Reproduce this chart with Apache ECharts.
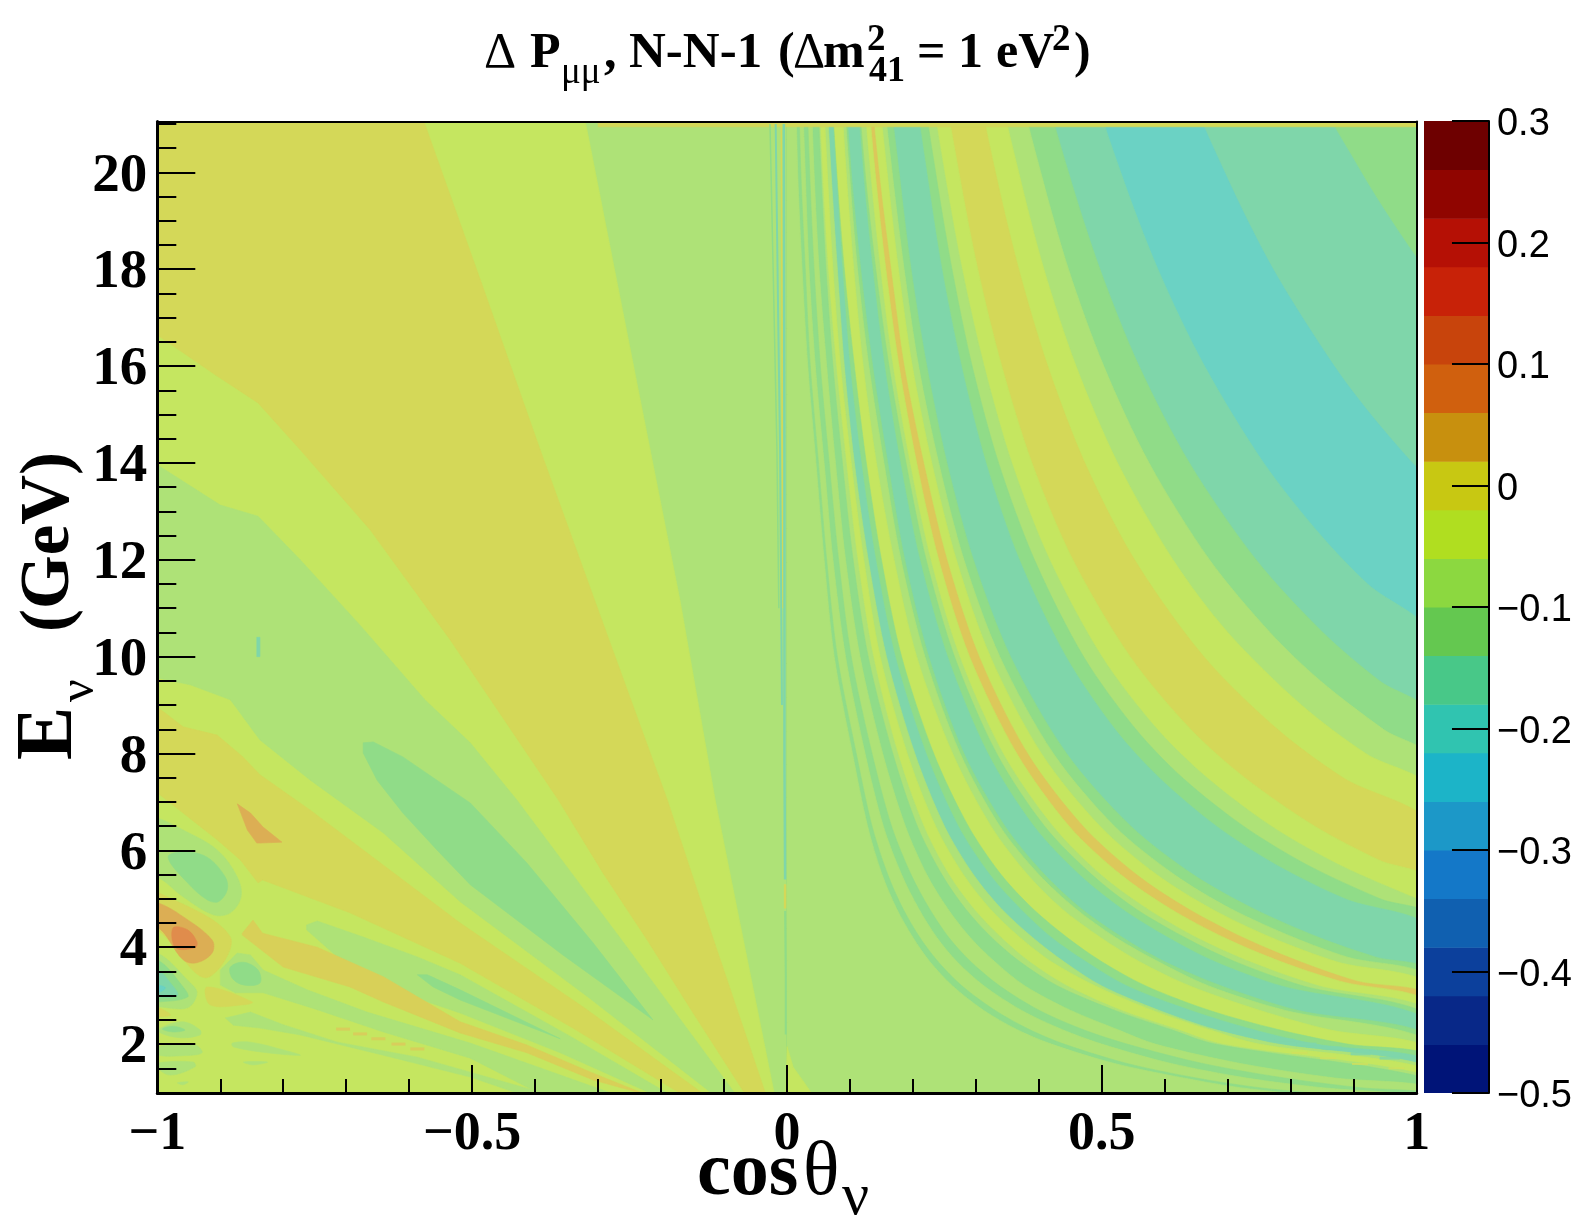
<!DOCTYPE html>
<html><head><meta charset="utf-8">
<style>html,body{margin:0;padding:0;background:#fff}#c{width:1575px;height:1217px}</style>
<script src="https://cdn.jsdelivr.net/npm/echarts@6/dist/echarts.min.js"></script>
</head><body><div id="c"></div>
<script>
// ---- tick labels / colour scale ----
const xTicks=[-1,-0.5,0,0.5,1];
const yMajor=[2,4,6,8,10,12,14,16,18,20];
const yMinor=[1,1.5,2.5,3,3.5,4.5,5,5.5,6.5,7,7.5,8.5,9,9.5,10.5,11,11.5,12.5,13,13.5,14.5,15,15.5,16.5,17,17.5,18.5,19,19.5,20.5,21];
const scaleEdges=[-0.5,-0.46,-0.42,-0.38,-0.34,-0.3,-0.26,-0.22,-0.18,-0.14,-0.1,-0.06,-0.02,0.02,0.06,0.1,0.14,0.18,0.22,0.26,0.3];
const scaleColors=['#001478','#082888','#0c409c','#1060b0','#1478c8','#1c98c8','#1cb4c8','#30c4b0','#48c888','#64c850','#8cd840','#b0de20','#c8c812','#c8900e','#d0600e','#c8440c','#c82208','#b51005','#900500','#6e0000'];
const P2='#e08c4c',P1='#dcae54',O0='#dcc85a',Q0='#d8d058',Z0='#d4d858',M1='#c5e660',M2='#aee277',M3='#90dc88',M4='#7fd6aa',M5='#6bd2c4';

// ---- contour edges for cosθ>0, each [cosθ,E] ----
const edge01=[[.829,22],[.912,20],[.96,19],[1.013,18],[1.05,17.4]];
const edge02=[[.632,22],[.695,20],[.772,18],[.869,16],[.927,15],[.993,14],[1.03,13.5]];
const edge03=[[.482,22],[.53,20],[.589,18],[.663,16],[.757,14],[.848,12.5],[.922,11.5],[1.03,10.3]];
const edge04=[[.406,22],[.447,20],[.497,18],[.559,16],[.639,14],[.745,12],[.851,10.5],[.941,9.5],[1.03,8.7]];
const edge05=[[.366,22],[.403,20],[.447,18],[.503,16],[.575,14],[.671,12],[.767,10.5],[.847,9.5],[.947,8.5],[1.03,7.8]];
const edge06=[[.334,22],[.368,20],[.408,18],[.459,16],[.525,14],[.613,12],[.7,10.5],[.817,9],[.919,8],[1.03,7.15]];
const edge07=[[.301,22],[.331,20],[.368,18],[.414,16],[.473,14],[.552,12],[.662,10],[.779,8.5],[.883,7.5],[1.03,6.4]];
const edge08=[[.248,22],[.273,20],[.303,18],[.341,16],[.389,14],[.454,12],[.545,10],[.641,8.5],[.727,7.5],[.838,6.5],[.94,5.8],[1.03,5.3]];
const edge09=[[.227,22],[.25,20],[.278,18],[.313,16],[.357,14],[.417,12],[.5,10],[.588,8.5],[.667,7.5],[.769,6.5],[.877,5.7],[1,5],[1.03,4.85]];
const edge10=[[.214,22],[.236,20],[.262,18],[.294,16],[.336,14],[.393,12],[.471,10],[.554,8.5],[.628,7.5],[.725,6.5],[.826,5.7],[.942,5],[1.03,4.57]];
const edge11=[[.201,22],[.222,20],[.246,18],[.277,16],[.316,14],[.369,12],[.443,10],[.521,8.5],[.591,7.5],[.682,6.5],[.777,5.7],[.886,5],[1.03,4.3]];
const edge12=[[.161,22],[.178,20],[.197,18],[.222,16],[.254,14],[.296,12],[.355,10],[.444,8],[.546,6.5],[.645,5.5],[.74,4.8],[.845,4.2],[.934,3.8],[1.03,3.45]];
const edge13=[[.151,22],[.167,20],[.186,18],[.209,16],[.241,14],[.281,12],[.338,10],[.423,8],[.52,6.5],[.615,5.5],[.704,4.8],[.805,4.2],[.889,3.8],[1.03,3.3]];
const edge14=[[.144,22],[.159,20],[.177,18],[.199,16],[.23,14],[.269,12],[.323,10],[.404,8],[.497,6.5],[.587,5.5],[.673,4.8],[.769,4.2],[.873,3.7],[1.03,3.15]];
const edge15=[[.132,22],[.146,20],[.165,18],[.186,16],[.217,14],[.254,12],[.305,10],[.382,8],[.47,6.5],[.555,5.5],[.636,4.8],[.724,4.2],[.815,3.7],[.905,3.3],[1.03,2.93]];
const edge16=[[.127,22],[.14,20],[.157,18],[.178,16],[.206,14],[.241,12],[.29,10],[.365,8],[.448,6.5],[.53,5.5],[.608,4.8],[.694,4.2],[.785,3.7],[.878,3.3],[1.03,2.79]];
const edge17=[[.12,22],[.132,20],[.148,18],[.168,16],[.195,14],[.228,12],[.274,10],[.343,8],[.422,6.5],[.498,5.5],[.571,4.8],[.65,4.2],[.735,3.7],[.845,3.2],[1.03,2.62]];
const edge18=[[.112,22],[.124,20],[.141,18],[.162,16],[.189,14],[.221,12],[.266,10],[.333,8],[.409,6.5],[.484,5.5],[.553,4.8],[.632,4.2],[.712,3.7],[.82,3.2],[1.03,2.52]];
const edge19=[[.11,22],[.121,20],[.136,18],[.155,16],[.18,14],[.211,12],[.255,10],[.319,8],[.392,6.5],[.464,5.5],[.531,4.8],[.605,4.2],[.68,3.7],[.785,3.2],[1.03,2.43]];
const edge20=[[.092,22],[.102,20],[.117,18],[.136,16],[.16,14],[.187,12],[.225,10],[.281,8],[.346,6.5],[.409,5.5],[.467,4.8],[.533,4.2],[.6,3.7],[.69,3.2],[.81,2.7],[1.03,2.13]];
const edge21=[[.089,22],[.099,20],[.112,18],[.13,16],[.154,14],[.181,12],[.219,10],[.275,8],[.338,6.5],[.4,5.5],[.458,4.8],[.522,4.2],[.59,3.7],[.67,3.2],[.79,2.7],[1.03,2.02]];
const edge22=[[.085,22],[.094,20],[.106,18],[.121,16],[.142,14],[.17,12],[.206,10],[.263,8],[.324,6.5],[.382,5.5],[.436,4.8],[.498,4.2],[.56,3.7],[.64,3.2],[.75,2.7],[.86,2.3],[1.03,1.88]];
const edge23=[[.07,22],[.079,20],[.091,18],[.107,16],[.126,14],[.15,12],[.182,10],[.233,8],[.288,6.5],[.34,5.5],[.39,4.8],[.445,4.2],[.5,3.7],[.57,3.2],[.67,2.7],[.78,2.3],[.89,2],[1.03,1.73]];
const edge24=[[.069,22],[.078,20],[.088,18],[.1,16],[.118,14],[.141,12],[.172,10],[.221,8],[.272,6.5],[.322,5.5],[.37,4.8],[.42,4.2],[.475,3.7],[.54,3.2],[.64,2.7],[.74,2.3],[.84,2],[1.03,1.63]];
const edge25=[[.062,22],[.07,20],[.08,18],[.091,16],[.107,14],[.129,12],[.158,10],[.203,8],[.25,6.5],[.296,5.5],[.34,4.8],[.39,4.2],[.44,3.7],[.5,3.2],[.59,2.7],[.68,2.3],[.78,2],[1.03,1.5]];
const edge26=[[.057,22],[.064,20],[.073,18],[.085,16],[.102,14],[.122,12],[.148,10],[.191,8],[.236,6.5],[.28,5.5],[.322,4.8],[.37,4.2],[.42,3.7],[.49,3.2],[.58,2.7],[.67,2.3],[.75,2],[1.03,1.44]];
const edge27=[[.05,22],[.056,20],[.065,18],[.078,16],[.094,14],[.112,12],[.137,10],[.176,8],[.217,6.5],[.257,5.5],[.296,4.8],[.34,4.2],[.385,3.7],[.445,3.2],[.53,2.7],[.62,2.3],[.69,2],[1.03,1.31]];
const edge28=[[.048,22],[.054,20],[.062,18],[.073,16],[.088,14],[.105,12],[.129,10],[.168,8],[.207,6.5],[.246,5.5],[.283,4.8],[.325,4.2],[.37,3.7],[.43,3.2],[.52,2.7],[.61,2.3],[.68,2],[1.03,1.25]];
const edge29=[[.038,22],[.043,20],[.051,18],[.063,16],[.077,14],[.093,12],[.116,10],[.152,8],[.188,6.5],[.222,5.5],[.255,4.8],[.291,4.2],[.33,3.7],[.378,3.2],[.45,2.7],[.525,2.3],[.585,2],[.72,1.6],[.87,1.3],[1.03,1.1]];
const edge30=[[.031,22],[.036,20],[.043,18],[.053,16],[.067,14],[.082,12],[.102,10],[.135,8],[.166,6.5],[.197,5.5],[.226,4.8],[.257,4.2],[.292,3.7],[.338,3.2],[.4,2.7],[.47,2.3],[.54,2],[.66,1.6],[.79,1.3],[.91,1.1],[1.03,.97]];
const edge31=[[.024,22],[.029,20],[.035,18],[.045,16],[.059,14],[.073,12],[.093,10],[.124,8],[.153,6.5],[.182,5.5],[.209,4.8],[.238,4.2],[.27,3.7],[.313,3.2],[.372,2.7],[.437,2.3],[.5,2],[.61,1.6],[.73,1.3],[.85,1.1],[1.03,.9]];
const edge32=[[.018,22],[.022,20],[.029,18],[.037,16],[.05,14],[.063,12],[.08,10],[.11,8],[.135,6.5],[.16,5.5],[.184,4.8],[.211,4.2],[.24,3.7],[.278,3.2],[.33,2.7],[.385,2.3],[.44,2],[.54,1.6],[.65,1.3],[.75,1.1],[.9,.9]];
const edge33=[[.014,22],[.017,20],[.024,18],[.033,16],[.046,14],[.059,12],[.075,10],[.104,8],[.128,6.5],[.151,5.5],[.174,4.8],[.2,4.2],[.227,3.7],[.263,3.2],[.312,2.7],[.365,2.3],[.42,2],[.52,1.6],[.63,1.3],[.72,1.1],[.86,.9]];
const rightBands=[[edge01,M4],[edge02,M5],[edge03,M4],[edge04,M3],[edge05,M2],[edge06,M1],[edge07,Z0],[edge08,M1],[edge09,M2],[edge10,M3],[edge11,M4],[edge12,M3],[edge13,M2],[edge14,M1],[edge15,O0],[edge16,M1],[edge17,M2],[edge18,M3],[edge19,M4],[edge20,M3],[edge21,M2],[edge22,M1],[edge23,M3],[edge24,M4],[edge25,M2],[edge26,M1],[edge27,M2],[edge28,M3],[edge29,M2],[edge30,M3],[edge31,M2],[edge32,M3],[edge33,M2]];
const closeRight=[[1.1,.5],[.5,.5],[.01,.5],[0,.5],[0,.6],[0,21.9],[0,23]];

// ---- closed contour regions for cosθ<0, each vertex [cosθ,E] ----
const wedgeM1=[[-1.05,21.1],[-.321,21.1],[-.233,15.3],[-.17,11.17],[-.114,7.04],[-.019,.9],[-1.05,.9]];
const wedgeZ0=[[-1.05,21.1],[-.578,21.1],[-.487,17.78],[-.392,14.27],[-.297,10.86],[-.19,7.04],[-.114,4.05],[-.032,.9],[-.063,.9],[-.149,2.64],[-.222,4.15],[-.292,5.53],[-.363,7.04],[-.535,10.35],[-.662,12.62],[-.773,14.27],[-.84,15.24],[-.908,15.82],[-1,16.64],[-1.05,17]];
const wedgeM2=[[-1.05,14.4],[-1,13.96],[-.9,13.13],[-.84,12.9],[-.773,12],[-.678,10.65],[-.575,9.11],[-.503,8.22],[-.429,7.04],[-.254,4],[-.078,.9],[-.111,.9],[-.316,2.97],[-.519,4.94],[-.641,6.36],[-.757,7.45],[-.837,8.28],[-.884,9.11],[-.948,9.42],[-1,9.56],[-1.05,9.7]];
const lobeA=[[-.673,8.22],[-.657,8.24],[-.61,7.93],[-.556,7.45],[-.503,6.98],[-.413,5.74],[-.308,4.09],[-.213,2.5],[-.356,3.84],[-.503,5.29],[-.556,6.01],[-.61,6.77],[-.651,7.45],[-.673,8.01]];
const blip=[[-.842,10.4],[-.837,10.4],[-.837,10],[-.842,10]];
const bandZ0=[[-1.05,9.2],[-1,8.96],[-.959,8.55],[-.905,8.38],[-.864,7.93],[-.837,7.56],[-.757,6.83],[-.519,4.5],[-.322,2.75],[-.125,.9],[-.159,.9],[-.34,2.33],[-.519,3.67],[-.694,4.71],[-.833,5.39],[-.84,5.33],[-.868,5.8],[-.905,6.22],[-.959,6.77],[-1,7.19],[-1.05,7.4]];
const patchP1=[[-.873,6.96],[-.852,6.77],[-.832,6.48],[-.802,6.17],[-.837,6.15],[-.842,6.15],[-.857,6.42]];
const ringM2=[[-1.05,6.8],[-1,6.67],[-.959,6.42],[-.905,6.01],[-.873,5.45],[-.867,5.04],[-.884,4.71],[-.911,4.67],[-.959,5.04],[-1,5.45],[-1.05,5.6]];
const ringM3=[[-.983,5.86],[-.959,5.97],[-.921,5.86],[-.892,5.45],[-.889,5.18],[-.903,4.94],[-.921,4.98],[-.952,5.33]];
const blobZ0=[[-1.05,5.3],[-1,5.14],[-.884,4.21],[-.924,3.37],[-1,4.36],[-1.05,4.5]];
const blobP1=[[-1.05,5],[-1,4.92],[-.959,4.63],[-.913,4.15],[-.913,3.88],[-.937,3.68],[-.959,3.74],[-1,4.42],[-1.05,4.5]];
const blobP2=[[-.975,4.4],[-.952,4.36],[-.937,4.11],[-.94,3.99],[-.971,3.99]];
const eyeM2=[[-1.05,3.9],[-1,3.88],[-.952,3.32],[-.937,3.06],[-.952,2.75],[-1,2.77],[-1.05,2.77]];
const eyeM3=[[-1.05,3.8],[-1,3.74],[-.959,3.18],[-.952,2.97],[-1,2.87],[-1.05,2.87]];
const eyeM4=[[-1.05,3.6],[-1,3.53],[-.979,3.26],[-.968,3.01],[-1,2.97],[-1.05,2.97]];
const eyeM5=[[-1.05,3.25],[-1,3.22],[-.987,3.16],[-1,3.06],[-1.05,3.03]];
const isleZ0a=[[-.921,3.18],[-.849,2.87],[-.863,2.81],[-.916,2.81]];
const isleZ0b=[[-1.05,2.8],[-1,2.75],[-.979,2.6],[-1,2.56],[-1.05,2.5]];
const isleM2a=[[-.995,2.33],[-.959,2.46],[-.932,2.29],[-.932,2.19],[-.963,2.13],[-.995,2.23]];
const isleM3a=[[-.992,2.31],[-.975,2.37],[-.956,2.29],[-.975,2.25]];
const isleM2b=[[-1,1.94],[-.94,1.98],[-.929,1.82],[-.959,1.76],[-1,1.78]];
const isleM2c=[[-1,1.61],[-.943,1.63],[-.94,1.53],[-.979,1.36],[-1,1.51]];
const isleM2d=[[-.968,1.2],[-.951,1.22],[-.959,1.16]];
const isleM2e=[[-.881,2.02],[-.852,2.04],[-.8,1.88],[-.773,1.77],[-.825,1.82],[-.879,1.94]];
const isleM2f=[[-.863,1.63],[-.825,1.63],[-.848,1.57]];
const longM2=[[-.892,2.54],[-.852,2.66],[-.8,2.4],[-.714,2.04],[-.587,1.73],[-.503,1.42],[-.376,.95],[-.42,.95],[-.503,1.32],[-.641,1.77],[-.773,2.19],[-.837,2.33],[-.879,2.39]];
const wedgeLow=[[-.763,4.46],[-.746,4.54],[-.673,4.21],[-.587,3.8],[-.519,3.43],[-.348,2.19],[-.178,.9],[-.202,.9],[-.36,1.82],[-.519,2.64],[-.641,3.18],[-.714,3.8],[-.763,4.36]];
const wedgeLowM3=[[-.587,3.43],[-.571,3.43],[-.519,3.12],[-.36,2.11],[-.519,2.91],[-.562,3.18]];
const thinO0=[[-.865,4.29],[-.848,4.56],[-.833,4.29],[-.746,4],[-.641,3.39],[-.519,2.46],[-.413,1.98],[-.308,1.4],[-.222,.95],[-.308,1.26],[-.413,1.82],[-.519,2.23],[-.641,2.87],[-.694,3.18],[-.8,3.59],[-.865,4.25]];
const tailM2=[[-.9,3.53],[-.873,3.88],[-.852,3.84],[-.832,3.53],[-.762,3.12],[-.667,2.66],[-.503,2.02],[-.26,.9],[-.381,.9],[-.503,1.71],[-.641,2.25],[-.746,2.71],[-.832,3.06],[-.876,3.06],[-.9,3.22]];
const tailM3=[[-.884,3.59],[-.863,3.69],[-.84,3.53],[-.837,3.26],[-.863,3.22],[-.881,3.36]];
const originM1=[[0,1.95],[.01,1.52],[.025,1.25],[.041,.95],[-.002,.95]];
const topStrip=[[-.3,21.05],[1.05,21.05],[1.05,20.94],[-.3,20.94]];
const leftRegions=[[wedgeM1,M1],[wedgeZ0,Z0],[wedgeM2,M2],[lobeA,M3],[blip,M4],[bandZ0,Z0],[patchP1,P1],[ringM2,M2,1],[ringM3,M3,1],[blobZ0,Z0,1],[blobP1,P1,1],[blobP2,P2,1],[eyeM2,M2,1],[eyeM3,M3,1],[eyeM4,M4,1],[eyeM5,M5,1],[isleZ0a,Z0,1],[isleZ0b,Z0,1],[isleM2a,M2,1],[isleM3a,M3,1],[isleM2b,M2,1],[isleM2c,M2,1],[isleM2d,M2,1],[isleM2e,M2,1],[isleM2f,M2,1],[longM2,M2],[wedgeLow,M2],[wedgeLowM3,M3],[thinO0,Q0],[tailM2,M2],[tailM3,M3,1],[originM1,M1],[topStrip,Z0]];

// near-vertical stripes at cosθ≈0
const stripeA=[[-.027,21],[-.022,18],[-.016,14.3],[-.013,11]];
const stripeB=[[-.018,21],[-.014,17],[-.011,14.3],[-.008,9]];
const stripeC=[[-.009,21],[-.0075,14.3],[-.006,11]];
const stripeD=[[-.005,21],[-.004,14],[-.004,7.8],[-.003,5.4]];
const stripeE=[[-.003,5.3],[-.003,4.8]];
const stripeF=[[-.003,4.75],[-.002,3.4],[-.002,2.2]];
// fragments of narrow ridges
const dashesO0=[[-.705,2.31],[-.678,2.21],[-.649,2.11],[-.617,2.0],[-.587,1.9]];
const dashesM4=[[.79,2.08],[.825,2.0],[.865,1.92],[.911,1.8],[.957,1.71]];
const dashesZ0=[[.814,1.82],[.859,1.71],[.91,1.59],[.968,1.5]];

const polys=[{pts:[[-1.05,22],[1.05,22],[1.05,.5],[-1.05,.5]],c:M2,s:0},{pts:[[0,22],[1.1,22],[1.1,.5],[0,.5]],c:M3,s:0}];
// the curve enters from straight above so its smoothing stays true inside the frame
rightBands.forEach(b=>polys.push({pts:b[0].concat(closeRight,[[b[0][0][0],23]]),c:b[1],s:0.3}));
leftRegions.forEach(b=>polys.push({pts:b[0],c:b[1],s:b[2]?0.35:0}));

const SERIF='"Liberation Serif","Times New Roman",serif', SANS='"Liberation Sans",Arial,sans-serif';
const minus=v=>String(v).replace('-','\u2212');
const lineS=(d,c,w)=>({type:'line',data:d,symbol:'none',silent:true,z:3,clip:true,lineStyle:{color:c,width:w},xAxisIndex:0,yAxisIndex:0});
const dashS=(d,c,s)=>({type:'scatter',data:d,symbol:'rect',symbolSize:s,silent:true,z:3,itemStyle:{color:c},xAxisIndex:0,yAxisIndex:0});

// title pieces: text, x, baseline, size, weight
const T=(text,x,y,size,weight)=>({type:'text',x:x,y:y,silent:true,z:20,style:{text:text,fill:'#000',font:(weight||'bold')+' '+size+'px '+SERIF,verticalAlign:'bottom',align:'left'}});
const titleParts=[
 T('\u0394',484,79,50,'normal'),T('P',530,79,50),T('\u03bc\u03bc',561,92,37,'normal'),T(',',604,79,50),
 T('N-N-1',629,79,51),T('(',778,79,50),T('\u0394',793,79,50,'normal'),T('m',823,79,50),
 T('2',867,59,37),T('41',869,90,36),T('=',917,79,50),T('1',958,79,50),T('eV',996,79,50),T('2',1052,59,37),T(')',1074,79,50),
 T('cos',697,1212,76),T('\u03b8',803,1212,76,'normal'),T('\u03bd',842,1228,60,'normal')
];
const R=(text,x,y,size,weight)=>({type:'text',x:x,y:y,rotation:Math.PI/2,silent:true,z:20,style:{text:text,fill:'#000',font:(weight||'bold')+' '+size+'px '+SERIF,verticalAlign:'bottom',align:'left'}});
const yTitle=[R('E',90,760,80),R('\u03bd',105,702,50,'normal'),R('(GeV)',85,632,69)];

const chart=echarts.init(document.getElementById('c'),null,{renderer:'canvas'});
chart.setOption({
 animation:false,backgroundColor:'#fff',
 graphic:titleParts.concat(yTitle),
 grid:[{left:157.3,top:121.5,width:1259.4,height:971.5,containLabel:false},{left:1424,top:121,width:66.7,height:972}],
 xAxis:[
  {type:'value',gridIndex:0,min:-1,max:1,interval:0.5,position:'bottom',z:10,splitLine:{show:false},
   axisLine:{onZero:false,lineStyle:{color:'#000',width:3}},
   axisTick:{inside:true,length:28,lineStyle:{color:'#000',width:2}},
   minorTick:{show:true,splitNumber:5,length:14,lineStyle:{color:'#000',width:2}},minorSplitLine:{show:false},
   axisLabel:{margin:15,color:'#000',fontFamily:SERIF,fontWeight:'bold',fontSize:54,formatter:minus,showMinLabel:true,showMaxLabel:true,hideOverlap:false}},
  {type:'value',gridIndex:0,min:-1,max:1,position:'top',z:10,splitLine:{show:false},axisLine:{onZero:false,lineStyle:{color:'#000',width:2}},axisTick:{show:false},axisLabel:{show:false}},
  {type:'value',gridIndex:1,min:0,max:1,show:false}
 ],
 yAxis:[
  {type:'value',gridIndex:0,min:0.99,max:21.05,position:'left',z:10,splitLine:{show:false},
   axisLine:{onZero:false,lineStyle:{color:'#000',width:3}},
   axisTick:{inside:true,length:38,customValues:yMajor,lineStyle:{color:'#000',width:2}},
   axisLabel:{margin:10,verticalAlign:'top',lineHeight:8,customValues:yMajor,color:'#000',fontFamily:SERIF,fontWeight:'bold',fontSize:55}},
  {type:'value',gridIndex:0,min:0.99,max:21.05,position:'left',z:10,splitLine:{show:false},axisLine:{show:false,onZero:false},
   axisTick:{inside:true,length:19,customValues:yMinor,lineStyle:{color:'#000',width:2}},axisLabel:{show:false}},
  {type:'value',gridIndex:0,min:0.99,max:21.05,position:'right',z:10,splitLine:{show:false},axisLine:{onZero:false,lineStyle:{color:'#000',width:2}},axisTick:{show:false},axisLabel:{show:false}},
  {type:'value',gridIndex:1,min:-0.5,max:0.3,interval:0.1,position:'right',z:10,splitLine:{show:false},
   axisLine:{onZero:false,lineStyle:{color:'#000',width:2}},
   axisTick:{inside:true,length:37,lineStyle:{color:'#000',width:2}},
   axisLabel:{margin:8,verticalAlign:'top',lineHeight:8,color:'#000',fontFamily:SANS,fontSize:38,formatter:minus,showMinLabel:true,showMaxLabel:true,hideOverlap:false}}
 ],
 series:[
  {type:'custom',xAxisIndex:0,yAxisIndex:0,clip:true,silent:true,z:2,data:polys.map((p,i)=>[i]),
   renderItem:(params,api)=>{const p=polys[params.dataIndex];
    return {type:'polygon',shape:{points:p.pts.map(q=>api.coord(q)),smooth:p.s},style:{fill:p.c,stroke:p.c,lineWidth:0.6}};}},
  lineS(stripeA,M3,1.5),lineS(stripeB,M4,2),lineS(stripeC,Z0,1.5),lineS(stripeD,M4,2.5),lineS(stripeE,Z0,2.5),lineS(stripeF,M3,2),
  dashS(dashesO0,O0,[14,3]),dashS(dashesM4,M4,[20,3]),dashS(dashesZ0,'#cfe05c',[16,2]),
  {type:'custom',xAxisIndex:2,yAxisIndex:3,silent:true,z:2,clip:true,data:scaleColors.map((c,i)=>[i]),
   renderItem:(params,api)=>{const i=params.dataIndex;const a=api.coord([0,scaleEdges[i]]),b=api.coord([1,scaleEdges[i+1]]);
    return {type:'rect',shape:{x:a[0],y:b[1],width:b[0]-a[0],height:a[1]-b[1]+0.5},style:{fill:scaleColors[i]}};}}
 ]
});
</script></body></html>
